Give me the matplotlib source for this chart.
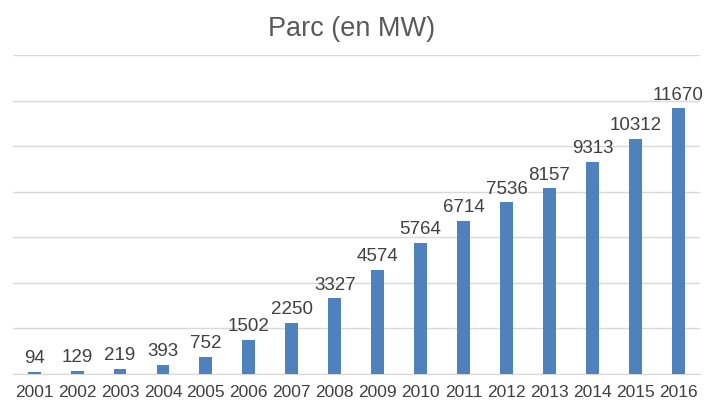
import matplotlib.pyplot as plt
import numpy as np

plt.rcParams['font.family'] = ['Liberation Sans', 'DejaVu Sans']

# Data
years = ["2001", "2002", "2003", "2004", "2005", "2006", "2007", "2008",
         "2009", "2010", "2011", "2012", "2013", "2014", "2015", "2016"]
parc_mw = [94, 129, 219, 393, 752, 1502, 2250, 3327,
           4574, 5764, 6714, 7536, 8157, 9313, 10312, 11670]

fig = plt.figure(figsize=(7.04, 4.03), dpi=100)
ax = fig.add_axes([0.018, 0.072, 0.976, 0.7915])

x = np.arange(len(years))
bars = ax.bar(x, parc_mw, width=0.3, color="#4F81BD", zorder=3)

for xi, v in zip(x, parc_mw):
    ax.text(xi, v + 200, str(v), ha="center", va="bottom",
            fontsize=13.5, color="#404040")

ax.set_xlim(-0.5, len(years) - 0.5)
ax.set_ylim(0, 14000)
ax.set_yticks(np.arange(0, 14001, 2000))
ax.yaxis.grid(True, color="#D9D9D9", linewidth=1, zorder=0)
ax.tick_params(axis="y", left=False, labelleft=False)
ax.set_xticks(x)
ax.set_xticklabels(years, fontsize=12.5, color="#404040")
ax.tick_params(axis="x", length=0, pad=8)
for s in ["top", "right", "left"]:
    ax.spines[s].set_visible(False)
ax.spines["bottom"].set_color("#D9D9D9")

fig.suptitle("Parc (en MW)", y=0.96, fontsize=19.5, color="#595959")

fig.savefig("out.png", dpi=100)
